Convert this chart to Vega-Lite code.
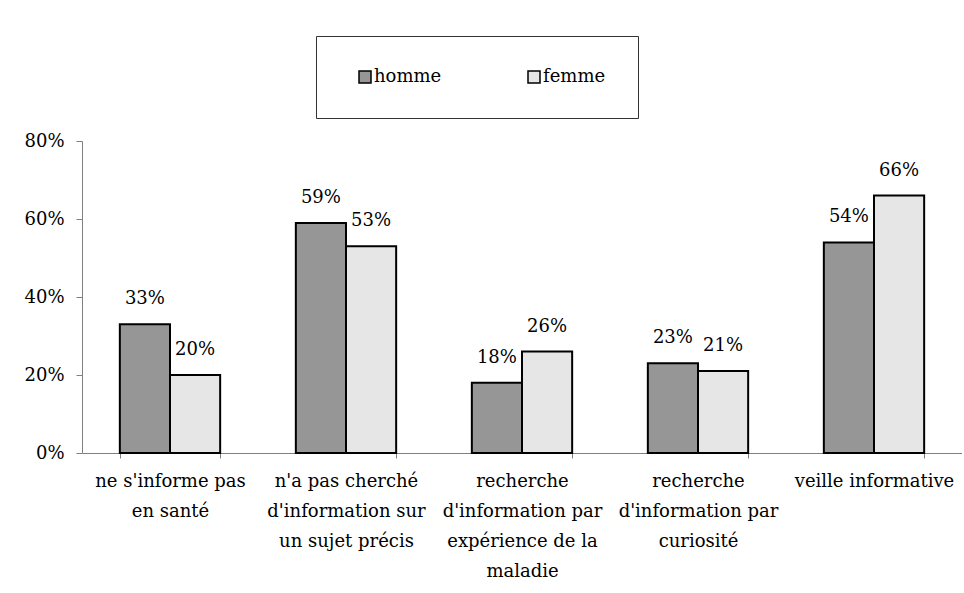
{
  "$schema": "https://vega.github.io/schema/vega-lite/v6.json",
  "width": 880,
  "height": 312,
  "padding": {"left": 23, "top": 35, "right": 0, "bottom": 0},
  "background": "white",
  "data": {
    "values": [
      {"categorie": "ne s'informe pas en santé", "sexe": "homme", "valeur": 0.33},
      {"categorie": "ne s'informe pas en santé", "sexe": "femme", "valeur": 0.20},
      {"categorie": "n'a pas cherché d'information sur un sujet précis", "sexe": "homme", "valeur": 0.59},
      {"categorie": "n'a pas cherché d'information sur un sujet précis", "sexe": "femme", "valeur": 0.53},
      {"categorie": "recherche d'information par expérience de la maladie", "sexe": "homme", "valeur": 0.18},
      {"categorie": "recherche d'information par expérience de la maladie", "sexe": "femme", "valeur": 0.26},
      {"categorie": "recherche d'information par curiosité", "sexe": "homme", "valeur": 0.23},
      {"categorie": "recherche d'information par curiosité", "sexe": "femme", "valeur": 0.21},
      {"categorie": "veille informative", "sexe": "homme", "valeur": 0.54},
      {"categorie": "veille informative", "sexe": "femme", "valeur": 0.66}
    ]
  },
  "encoding": {
    "x": {
      "field": "categorie",
      "type": "nominal",
      "sort": null,
      "scale": {"paddingInner": 0.43, "paddingOuter": 0.215},
      "axis": {
        "title": null,
        "labelAngle": 0,
        "tickBand": "extent",
        "tickSize": 5,
        "labelPadding": 14,
        "labelFont": "DejaVu Serif",
        "labelFontSize": 18,
        "labelColor": "black",
        "labelLineHeight": 30,
        "labelLimit": 0,
        "domainColor": "#808080",
        "tickColor": "#808080",
        "labelExpr": "{\"ne s'informe pas en santé\": [\"ne s'informe pas\", \"en santé\"], \"n'a pas cherché d'information sur un sujet précis\": [\"n'a pas cherché\", \"d'information sur\", \"un sujet précis\"], \"recherche d'information par expérience de la maladie\": [\"recherche\", \"d'information par\", \"expérience de la\", \"maladie\"], \"recherche d'information par curiosité\": [\"recherche\", \"d'information par\", \"curiosité\"], \"veille informative\": [\"veille informative\"]}[datum.value]"
      }
    },
    "xOffset": {
      "field": "sexe",
      "type": "nominal",
      "sort": ["homme", "femme"],
      "scale": {"paddingInner": 0, "paddingOuter": 0}
    },
    "y": {
      "field": "valeur",
      "type": "quantitative",
      "scale": {"domain": [0, 0.8]},
      "axis": {
        "title": null,
        "values": [0, 0.2, 0.4, 0.6, 0.8],
        "format": ".0%",
        "grid": false,
        "tickSize": 6,
        "labelPadding": 12,
        "labelFont": "DejaVu Serif",
        "labelFontSize": 18,
        "labelColor": "black",
        "domainColor": "#808080",
        "tickColor": "#808080"
      }
    }
  },
  "layer": [
    {
      "mark": {"type": "bar", "stroke": "black", "strokeWidth": 2},
      "encoding": {
        "color": {
          "field": "sexe",
          "type": "nominal",
          "sort": ["homme", "femme"],
          "scale": {"domain": ["homme", "femme"], "range": ["#969696", "#e6e6e6"]},
          "legend": {
            "title": null,
            "orient": "none",
            "legendX": 234,
            "legendY": -105,
            "direction": "horizontal",
            "strokeColor": "#333333",
            "fillColor": "white",
            "padding": 32,
            "columnPadding": 75,
            "symbolType": "square",
            "symbolSize": 144,
            "symbolStrokeColor": "black",
            "symbolStrokeWidth": 1.5,
            "symbolOpacity": 1,
            "symbolOffset": 8,
            "labelFont": "DejaVu Serif",
            "labelFontSize": 18,
            "labelColor": "black",
            "labelOffset": 0
          }
        }
      }
    },
    {
      "mark": {"type": "text", "baseline": "middle", "dy": -25, "font": "DejaVu Serif", "fontSize": 18, "color": "black"},
      "encoding": {"text": {"field": "valeur", "type": "quantitative", "format": ".0%"}}
    }
  ],
  "config": {"view": {"stroke": null}}
}
